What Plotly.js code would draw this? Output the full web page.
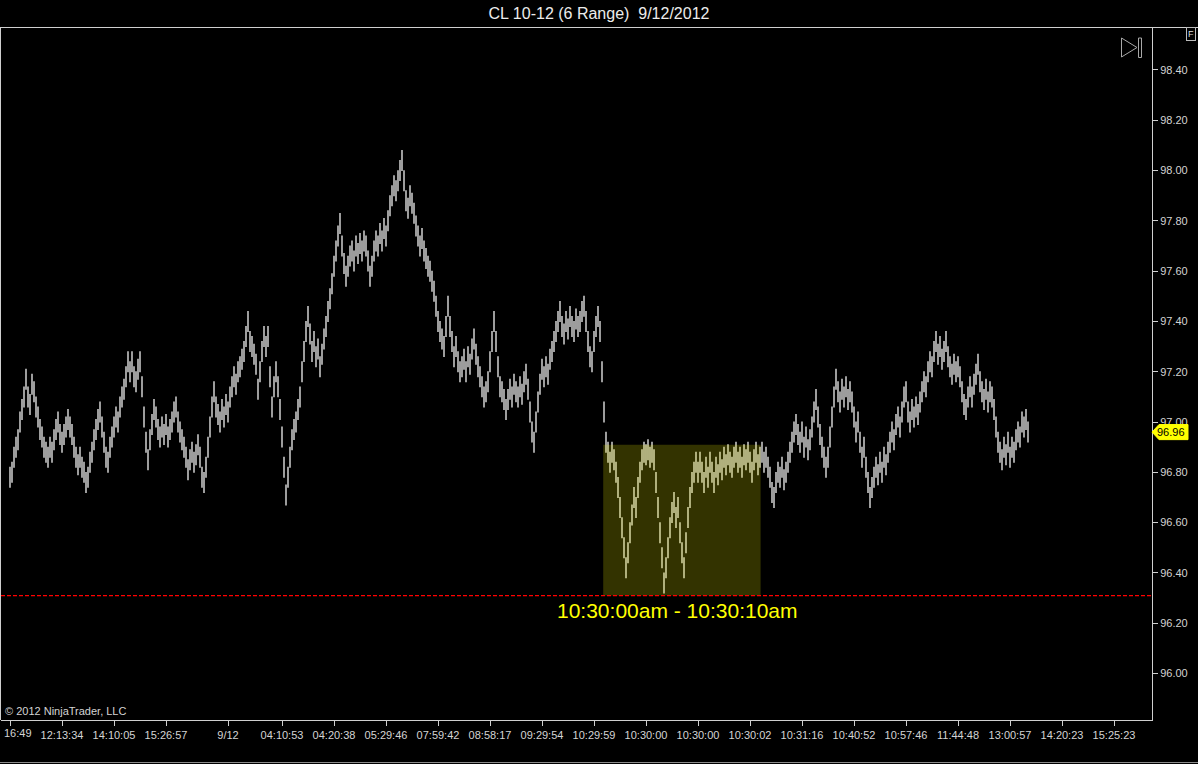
<!DOCTYPE html>
<html>
<head>
<meta charset="utf-8">
<script src="https://cdn.plot.ly/plotly-3.0.1.min.js"></script>
<style>
  html, body { margin: 0; padding: 0; background: #000; }
  #chart { width: 1198px; height: 764px; }
</style>
</head>
<body>
<div id="chart"></div>
<script>
// ---- data: range-bar mid prices, one per bar, in order ----
const barMid = [
  // 11:16 .. 15:26 (previous session)
  96.78, 96.80, 96.86, 96.90, 96.93, 97.00, 97.05, 97.10, 97.17,
  97.10, 97.07, 97.15,
  97.12, 97.06, 97.02, 96.97,
  96.94, 96.90, 96.88, 96.86, 96.90, 96.88, 96.93, 96.97, 97.00, 96.95, 96.92, 96.95,
  96.98, 97.01, 96.98, 96.95,
  96.90, 96.86, 96.83, 96.86, 96.82, 96.80, 96.76, 96.78,
  96.84, 96.88, 96.93, 96.97, 97.01, 97.04,
  96.98, 96.92, 96.86, 96.84,
  96.90, 96.94, 96.98, 97.02, 97.00, 97.06, 97.10, 97.13, 97.18, 97.24,
  97.20, 97.24, 97.18, 97.16, 97.21, 97.24,
  97.14, 97.02, 96.92, 96.85,
  96.93, 96.99, 97.05, 97.02,
  96.97, 96.94, 96.98, 96.95, 96.99, 96.94, 96.97, 97.00, 97.04, 97.06, 97.00, 96.96, 96.93, 96.90,
  96.86, 96.81, 96.85, 96.88, 96.84, 96.87, 96.91, 96.86, 96.78, 96.76, 96.82,
  // 9/12 session
  96.90, 96.98, 97.06, 97.12,
  97.06, 97.03, 97.00, 97.05, 97.02, 97.07, 97.04,
  97.10, 97.14, 97.18, 97.15, 97.20, 97.22, 97.25, 97.28, 97.34, 97.40,
  97.32, 97.30, 97.27, 97.23,
  97.13, 97.20,
  97.28, 97.34, 97.30, 97.34,
  97.18, 97.06,
  97.14, 97.20, 97.14,
  97.05, 96.94, 96.82, 96.71,
  96.78, 96.86, 96.93, 96.97, 97.00, 97.05,
  97.10, 97.20, 97.28, 97.36, 97.42,
  97.35, 97.28, 97.32, 97.26, 97.29, 97.22,
  97.27, 97.33, 97.38, 97.44, 97.49, 97.55,
  97.62, 97.68, 97.74, 97.79,
  97.70, 97.63, 97.58, 97.62,
  97.66, 97.68, 97.64, 97.70, 97.67, 97.71, 97.68, 97.72, 97.70,
  97.64, 97.58, 97.62,
  97.68, 97.72, 97.70, 97.75, 97.72, 97.77, 97.74,
  97.80, 97.86, 97.90, 97.94, 97.92,
  97.96, 98.00, 98.04, 97.96,
  97.88, 97.85, 97.90, 97.87, 97.83,
  97.78, 97.74, 97.70, 97.73, 97.68, 97.65, 97.62, 97.60, 97.56, 97.52,
  97.46, 97.40, 97.36, 97.33, 97.30,
  97.38, 97.46,
  97.38, 97.32, 97.26, 97.30, 97.24, 97.20,
  97.22, 97.25, 97.20, 97.26, 97.23, 97.29, 97.33, 97.27,
  97.22, 97.18, 97.14, 97.10, 97.12, 97.16,
  97.24, 97.32, 97.40, 97.32,
  97.22, 97.14, 97.12, 97.09, 97.05, 97.09, 97.13, 97.10, 97.15, 97.12, 97.10, 97.14, 97.11, 97.16, 97.19, 97.13,
  97.04, 96.96, 96.92,
  97.00, 97.08, 97.15, 97.21, 97.18, 97.22, 97.19, 97.25, 97.28,
  97.32, 97.36, 97.40, 97.44,
  97.38, 97.35, 97.40, 97.37, 97.42, 97.38, 97.36, 97.41, 97.38, 97.40, 97.44, 97.46,
  97.40, 97.32, 97.26, 97.24,
  97.32, 97.38, 97.42, 97.36,
  97.20, 97.04,
  // 10:30:00 - 10:30:10 release
  96.92, 96.88, 96.84, 96.88, 96.85, 96.80,
  96.74, 96.66, 96.58, 96.50, 96.42, 96.48,
  96.56, 96.63, 96.70, 96.66, 96.74, 96.80, 96.85, 96.88,
  96.87, 96.89, 96.86, 96.88, 96.85,
  96.76, 96.66, 96.56, 96.46, 96.36, 96.42,
  96.50, 96.58, 96.64, 96.68, 96.62, 96.66,
  96.56, 96.48, 96.42, 96.52,
  96.62, 96.70, 96.76, 96.80, 96.84, 96.80, 96.84,
  96.80, 96.76, 96.82, 96.78, 96.84, 96.80, 96.76, 96.82, 96.79, 96.84,
  96.81, 96.86, 96.83, 96.87, 96.84, 96.82, 96.86, 96.88, 96.84, 96.86,
  96.82, 96.87, 96.85, 96.88, 96.84, 96.80, 96.85, 96.88, 96.83, 96.86,
  // after the release
  96.88, 96.84, 96.86, 96.82, 96.78, 96.72, 96.70,
  96.76, 96.80, 96.78, 96.82, 96.77, 96.80, 96.84,
  96.88, 96.92, 96.96, 96.99, 96.95,
  96.92, 96.96, 96.90, 96.94, 96.89, 96.93,
  96.98, 97.04, 97.09, 97.02,
  96.95, 96.90, 96.86, 96.82, 96.86,
  96.94, 97.02, 97.10, 97.17, 97.12, 97.08, 97.13, 97.10, 97.14, 97.09, 97.12, 97.08,
  97.02, 96.96, 97.00, 96.92, 96.86, 96.90, 96.82, 96.76, 96.70,
  96.74, 96.78, 96.82, 96.79, 96.84, 96.80, 96.86, 96.83, 96.88,
  96.92, 96.96, 96.93, 96.99, 97.02, 96.98, 97.04, 97.10, 97.12,
  97.04, 97.00, 97.05, 97.02, 97.06, 97.03, 97.08,
  97.12, 97.16, 97.14, 97.20, 97.24, 97.22, 97.28, 97.32,
  97.27, 97.30, 97.25, 97.28, 97.32, 97.26,
  97.22, 97.19, 97.23, 97.20, 97.22, 97.18,
  97.12, 97.07, 97.05, 97.10,
  97.14, 97.10, 97.15, 97.19, 97.23, 97.16, 97.12, 97.09, 97.13, 97.08, 97.12, 97.10, 97.05,
  96.98, 96.92, 96.88, 96.85, 96.90, 96.87, 96.92, 96.86, 96.90, 96.88, 96.93,
  96.96, 96.94, 97.00, 96.98, 97.01, 96.96
];

const tickBars = [0, 26, 52, 78, 109, 136, 162, 188, 214, 240, 266, 292, 318, 344, 370, 396, 422, 448, 474, 500, 526, 552];
const tickLabels = ['', '12:13:34', '14:10:05', '15:26:57', '9/12', '04:10:53', '04:20:38', '05:29:46',
  '07:59:42', '08:58:17', '09:29:54', '10:29:59', '10:30:00', '10:30:00', '10:30:02', '10:31:16',
  '10:40:52', '10:57:46', '11:44:48', '13:00:57', '14:20:23', '15:25:23'];
const firstTickLabel = '16:49';   // the first label is cut at the left edge of the chart

const priceTicks = [96.00, 96.20, 96.40, 96.60, 96.80, 97.00, 97.20, 97.40, 97.60, 97.80, 98.00, 98.20, 98.40];

// highlighted release window (bar numbers) and price levels
const releaseFirstBar = 297;
const releaseLastBar = 375;
const releaseLow = 96.31;
const releaseHigh = 96.91;
const releaseLabel = '10:30:00am - 10:30:10am';

const titleText = 'CL 10-12 (6 Range)\u00a0 9/12/2012';
const copyright = '\u00a9 2012 NinjaTrader, LLC';

// ---- drawing ----
const W = 1198, H = 764;
const M = { l: 1, r: 46, t: 28, b: 44 };
const PW = W - M.l - M.r, PH = H - M.t - M.b;
const px = v => (v - M.l) / PW;          // page x pixel -> paper
const py = v => (H - M.b - v) / PH;      // page y pixel -> paper

const lastPrice = barMid[barMid.length - 1];
const FONT = 'Liberation Sans, Arial, sans-serif';
const BAR = '#b9b9b9';
const AX = '#cfcfcf';

const bars = {
  type: 'scatter',
  mode: 'markers',
  x: barMid.map((_, i) => i),
  y: barMid,
  marker: { symbol: 'line-ns-open', size: 15, color: BAR, line: { width: 1.7, color: BAR } },
  hoverinfo: 'skip',
  showlegend: false
};

const shapes = [
  // panel frame lines
  { type: 'line', xref: 'paper', yref: 'paper', x0: px(0), x1: px(W), y0: py(27.5), y1: py(27.5), line: { color: AX, width: 1 } },
  { type: 'line', xref: 'paper', yref: 'paper', x0: px(0.5), x1: px(0.5), y0: py(27.5), y1: py(720), line: { color: AX, width: 1 } },
  { type: 'line', xref: 'paper', yref: 'paper', x0: px(0), x1: px(W), y0: py(762.5), y1: py(762.5), line: { color: '#8a8a8a', width: 1 } },
  // release window highlight
  { type: 'rect', xref: 'x', yref: 'y', x0: releaseFirstBar - 0.4, x1: releaseLastBar + 0.3, y0: releaseLow, y1: releaseHigh,
    fillcolor: 'rgba(255,255,0,0.2)', line: { width: 0 }, layer: 'above' },
  // low of the release, dashed red
  { type: 'line', xref: 'paper', yref: 'y', x0: 0, x1: 1, y0: releaseLow, y1: releaseLow,
    line: { color: '#ff0000', width: 1.2, dash: '4px,2px' }, layer: 'above' },
  // last price tag
  { type: 'path', xref: 'paper', yref: 'y',
    path: `M ${px(1152)},${lastPrice} L ${px(1159)},${lastPrice + 0.03} L ${px(1188)},${lastPrice + 0.03} L ${px(1188)},${lastPrice - 0.03} L ${px(1159)},${lastPrice - 0.03} Z`,
    fillcolor: '#ffff00', line: { color: '#ffff00', width: 1 }, layer: 'above' },
  // scroll-to-end icon
  { type: 'path', xref: 'paper', yref: 'paper',
    path: `M ${px(1121.5)},${py(38)} L ${px(1121.5)},${py(57)} L ${px(1137)},${py(47.5)} Z`,
    line: { color: '#a8a8a8', width: 1 }, layer: 'above' },
  { type: 'rect', xref: 'paper', yref: 'paper', x0: px(1138.5), x1: px(1141.5), y0: py(38), y1: py(57.5),
    line: { color: '#a8a8a8', width: 1 }, layer: 'above' }
];

const annotations = [
  { xref: 'x', yref: 'y', x: (releaseFirstBar + releaseLastBar) / 2 - 2.5, y: releaseLow, yanchor: 'top', xanchor: 'center',
    yshift: -1, text: releaseLabel, showarrow: false, font: { family: FONT, size: 21, color: '#ffff00' } },
  { xref: 'paper', yref: 'y', x: px(1171), y: lastPrice, xanchor: 'center', yanchor: 'middle',
    text: lastPrice.toFixed(2), showarrow: false, font: { family: FONT, size: 11, color: '#000' } },
  { xref: 'paper', yref: 'paper', x: px(3), y: py(711), xanchor: 'left', yanchor: 'middle',
    text: copyright, showarrow: false, font: { family: FONT, size: 11, color: '#d4d4d4' } },
  { xref: 'paper', yref: 'paper', x: px(2), y: py(733), xanchor: 'left', yanchor: 'middle',
    text: firstTickLabel, showarrow: false, font: { family: FONT, size: 11, color: '#d4d4d4' } },
  { xref: 'paper', yref: 'paper', x: px(1190.5), y: py(34.5), xanchor: 'center', yanchor: 'middle',
    text: 'F', showarrow: false, font: { family: FONT, size: 9, color: '#dddddd' },
    bordercolor: '#bbbbbb', borderwidth: 1, borderpad: 1, bgcolor: '#000' }
];

const layout = {
  width: W, height: H,
  margin: M,
  paper_bgcolor: '#000',
  plot_bgcolor: '#000',
  showlegend: false,
  title: { text: titleText, font: { family: FONT, size: 16, color: '#ececec' },
           xref: 'container', x: 0.5, xanchor: 'center', yref: 'container', y: 1 - 13.5 / H, yanchor: 'middle' },
  xaxis: {
    range: [-4.5, -4.5 + PW / 2],
    tickmode: 'array', tickvals: tickBars, ticktext: tickLabels,
    ticks: 'outside', ticklen: 5, tickcolor: AX, tickwidth: 1,
    showline: true, linecolor: AX, linewidth: 1,
    showgrid: false, zeroline: false,
    tickfont: { family: FONT, size: 11, color: '#d4d4d4' }
  },
  yaxis: {
    side: 'right',
    range: [95.815, 98.567],
    tickmode: 'array', tickvals: priceTicks, ticktext: priceTicks.map(v => v.toFixed(2)),
    ticks: 'outside', ticklen: 5, tickcolor: AX, tickwidth: 1,
    showline: true, linecolor: AX, linewidth: 1,
    showgrid: false, zeroline: false,
    tickfont: { family: FONT, size: 11, color: '#d4d4d4' }
  },
  shapes: shapes,
  annotations: annotations
};

Plotly.newPlot('chart', [bars], layout, { staticPlot: true, displayModeBar: false });
</script>
</body>
</html>
